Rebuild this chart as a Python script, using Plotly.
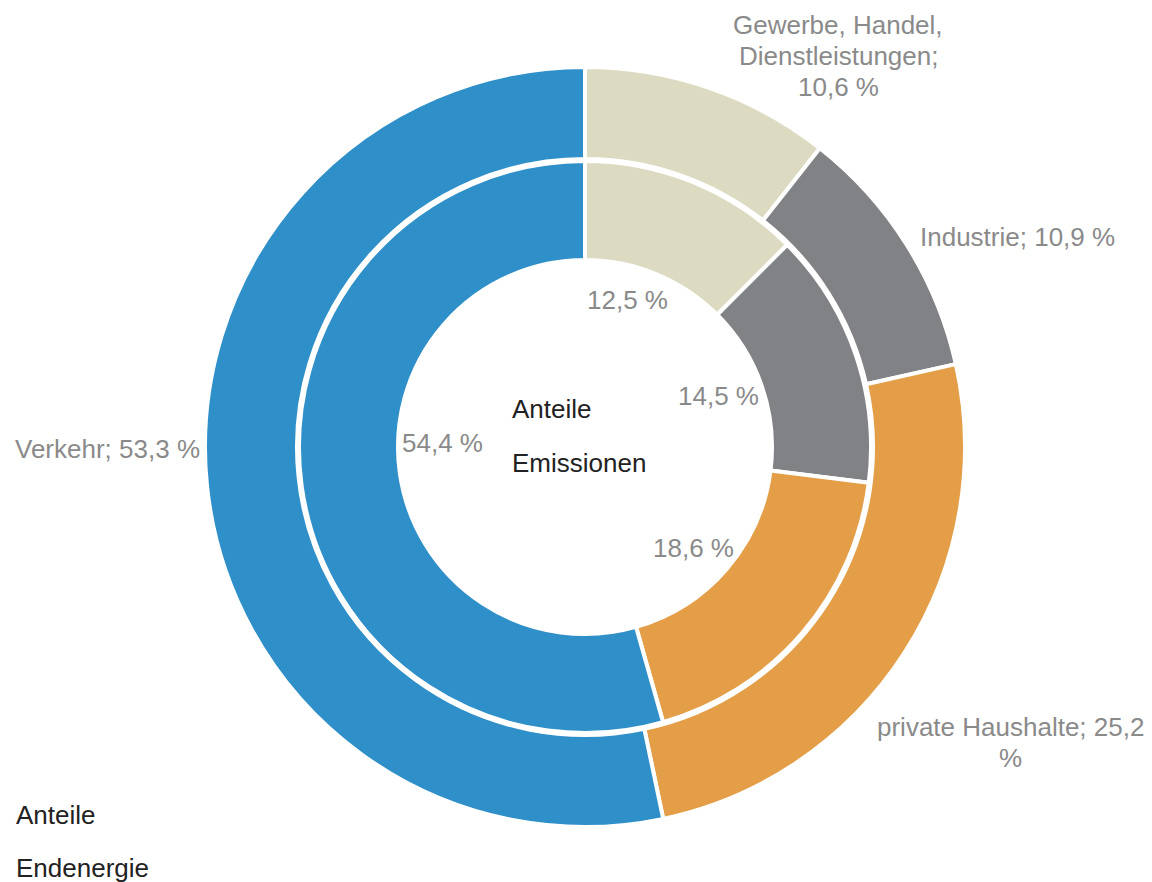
import plotly.graph_objects as go

categories = ["Gewerbe, Handel, Dienstleistungen", "Industrie", "private Haushalte", "Verkehr"]
endenergie = [10.6, 10.9, 25.2, 53.3]
emissionen = [12.5, 14.5, 18.6, 54.4]
colors = ["#DDDAC2", "#818286", "#E39E47", "#2E8FC9"]

outer_labels = [["Gewerbe, Handel,", "Dienstleistungen;", "10,6 %"], ["Industrie; 10,9 %"],
                ["private Haushalte; 25,2", "%"], ["Verkehr; 53,3 %"]]
inner_labels = ["12,5 %", "14,5 %", "18,6 %", "54,4 %"]

W, H = 1152, 882
OFF = 8  # page body margin
cx, cy = 585 - OFF, 447 - OFF
R_out, R_in = 380, 286

def dom(r):
    return dict(x=[(cx - r) / W, (cx + r) / W], y=[(H - cy - r) / H, (H - cy + r) / H])

fig = go.Figure()
fig.add_trace(go.Pie(labels=categories, values=endenergie, sort=False, direction="clockwise",
                     rotation=0, hole=288 / R_out, domain=dom(R_out), textinfo="none",
                     marker=dict(colors=colors, line=dict(color="white", width=4)),
                     hoverinfo="label+value", showlegend=False))
fig.add_trace(go.Pie(labels=categories, values=emissionen, sort=False, direction="clockwise",
                     rotation=0, hole=187 / R_in, domain=dom(R_in), textinfo="none",
                     marker=dict(colors=colors, line=dict(color="white", width=4)),
                     hoverinfo="label+value", showlegend=False))

gray = "#8A8A8A"
black = "#222222"
font = "Liberation Sans, Arial, sans-serif"
FS = 26
LH = 31

def add_text(txt, x, y, color, xanchor="center"):
    fig.add_annotation(x=(x - OFF) / W, y=1 - (y - OFF) / H, xref="paper", yref="paper", text=txt,
                       showarrow=False, xanchor=xanchor, yanchor="middle",
                       font=dict(family=font, size=FS, color=color))

outer_pos = [(838, 25), (1017, 237), (1010, 727), (107, 449)]
inner_pos = [(627, 300), (718, 396), (693, 548), (442, 443)]
for lines, (x, y) in zip(outer_labels, outer_pos):
    for i, ln in enumerate(lines):
        add_text(ln, x, y + i * LH, gray)
for txt, (x, y) in zip(inner_labels, inner_pos):
    add_text(txt, x, y, gray)

for txt, x, y in [("Anteile", 510, 409), ("Emissionen", 510, 463),
                  ("Anteile", 14, 815), ("Endenergie", 14, 868)]:
    add_text(txt, x, y, black, xanchor="left")

fig.update_layout(width=W, height=H, margin=dict(l=0, r=0, t=0, b=0),
                  paper_bgcolor="white", plot_bgcolor="white")
fig.write_html("out.html")
